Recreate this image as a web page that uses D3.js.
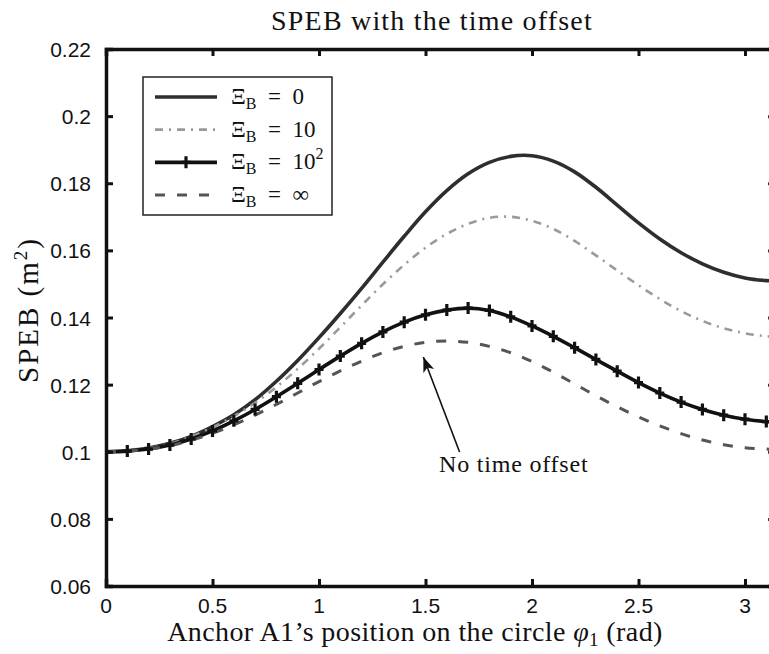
<!DOCTYPE html>
<html>
<head>
<meta charset="utf-8">
<script src="https://cdn.jsdelivr.net/npm/d3@7"></script>
<style>
    body { margin: 0; background: #fff; }
    svg { display: block; }
    .tick-label { font-family: "Liberation Sans", Arial, sans-serif; font-size: 21px; fill: #111; }
    .serif { font-family: "Liberation Serif", "Times New Roman", serif; fill: #111; }
</style>
</head>
<body>
<div id="chart"></div>
<script>
// phi_1 values (rad), every 0.1 plus the end point pi
const phi = [0, 0.1, 0.2, 0.3, 0.4, 0.5, 0.6, 0.7, 0.8, 0.9, 1.0, 1.1, 1.2, 1.3, 1.4, 1.5,
    1.6, 1.7, 1.8, 1.9, 2.0, 2.1, 2.2, 2.3, 2.4, 2.5, 2.6, 2.7, 2.8, 2.9, 3.0, 3.1, Math.PI];

// SPEB (m^2)
const speb0 = [0.1, 0.1003, 0.1011, 0.1025, 0.1046, 0.1075, 0.1110, 0.1155, 0.1210, 0.1272, 0.1340,
    0.1412, 0.1487, 0.1565, 0.1642, 0.1715, 0.1778, 0.1828, 0.1862, 0.1880, 0.1882, 0.1866,
    0.1834, 0.1788, 0.1735, 0.1682, 0.1634, 0.1593, 0.1560, 0.1535, 0.1518, 0.1510, 0.1509];
const speb10 = [0.1, 0.1003, 0.1011, 0.1024, 0.1045, 0.1073, 0.1106, 0.1146, 0.1193, 0.1247, 0.1307,
    0.1371, 0.1436, 0.1499, 0.1557, 0.1608, 0.1649, 0.1679, 0.1697, 0.1700, 0.1688, 0.1664,
    0.1628, 0.1585, 0.1540, 0.1496, 0.1455, 0.1419, 0.1390, 0.1368, 0.1353, 0.1344, 0.1343];
const speb100 = [0.1, 0.1002, 0.1008, 0.1020, 0.1038, 0.1062, 0.1092, 0.1126, 0.1164, 0.1204, 0.1245,
    0.1285, 0.1323, 0.1357, 0.1386, 0.1408, 0.1422, 0.1428, 0.1421, 0.1402, 0.1375, 0.1344,
    0.1310, 0.1275, 0.1240, 0.1206, 0.1175, 0.1148, 0.1126, 0.1109, 0.1097, 0.1090, 0.1089];
const spebInf = [0.1, 0.1002, 0.1008, 0.1018, 0.1034, 0.1055, 0.1080, 0.1109, 0.1141, 0.1175, 0.1209,
    0.1241, 0.1270, 0.1295, 0.1314, 0.1326, 0.1330, 0.1326, 0.1314, 0.1295, 0.1269, 0.1237,
    0.1202, 0.1167, 0.1134, 0.1104, 0.1077, 0.1054, 0.1035, 0.1021, 0.1012, 0.1008, 0.1007];

const xTicks = [0, 0.5, 1, 1.5, 2, 2.5, 3];
const yTicks = [0.06, 0.08, 0.1, 0.12, 0.14, 0.16, 0.18, 0.2, 0.22];
const legendLabels = ["0", "10", "10", "\u221E"];

const W = 769, H = 654;
const plotLeft = 106, plotTop = 49, plotBottom = 586;
const plotRight = plotLeft + Math.PI * 213;

const svg = d3.select("#chart").append("svg")
    .attr("width", W)
    .attr("height", H);

const x = d3.scaleLinear().domain([0, Math.PI]).range([plotLeft, plotRight]);
const y = d3.scaleLinear().domain([0.06, 0.22]).range([plotBottom, plotTop]);

svg.append("clipPath").attr("id", "plot-clip")
    .append("rect")
    .attr("x", plotLeft).attr("y", plotTop)
    .attr("width", plotRight - plotLeft).attr("height", plotBottom - plotTop);

// curves
const line = d3.line()
    .x((d, i) => x(phi[i]))
    .y(d => y(d))
    .curve(d3.curveCatmullRom);

const series = [
    { values: speb0, color: "#2e2e2e", width: 3.6, dash: null },
    { values: speb10, color: "#9a9a9a", width: 2.6, dash: "8,6,2,6" },
    { values: speb100, color: "#111", width: 3.6, dash: null },
    { values: spebInf, color: "#555", width: 3, dash: "10,12" }
];

const plot = svg.append("g").attr("clip-path", "url(#plot-clip)");

series.forEach(s => {
    plot.append("path")
        .datum(s.values)
        .attr("d", line)
        .attr("fill", "none")
        .attr("stroke", s.color)
        .attr("stroke-width", s.width)
        .attr("stroke-dasharray", s.dash);
});

// plus markers on the 10^2 curve
plot.selectAll(".mark")
    .data(speb100.slice(0, 32))
    .enter().append("path")
    .attr("class", "mark")
    .attr("transform", (d, i) => `translate(${x(phi[i])},${y(d)})`)
    .attr("d", "M-4.5,0H4.5M0,-6V6")
    .attr("stroke", "#111")
    .attr("stroke-width", 3.2);

// frame and ticks
const axisG = svg.append("g");

axisG.append("g")
    .attr("transform", `translate(0,${plotBottom})`)
    .call(d3.axisBottom(x).tickValues(xTicks).tickSize(-7).tickFormat(""));
axisG.append("g")
    .attr("transform", `translate(0,${plotTop})`)
    .call(d3.axisTop(x).tickValues(xTicks).tickSize(-7).tickFormat(""));
axisG.append("g")
    .attr("transform", `translate(${plotLeft},0)`)
    .call(d3.axisLeft(y).tickValues(yTicks).tickSize(-7).tickFormat(""));
axisG.append("g")
    .attr("transform", `translate(${plotRight},0)`)
    .call(d3.axisRight(y).tickValues(yTicks).tickSize(-7).tickFormat(""));

axisG.selectAll(".domain").attr("stroke", "#111").attr("stroke-width", 3.5);
axisG.selectAll(".tick line").attr("stroke", "#111").attr("stroke-width", 3);

// tick labels
svg.selectAll(".xlab")
    .data(xTicks)
    .enter().append("text")
    .attr("class", "tick-label")
    .attr("x", d => x(d))
    .attr("y", 613)
    .attr("text-anchor", "middle")
    .text(d => d);

svg.selectAll(".ylab")
    .data(yTicks)
    .enter().append("text")
    .attr("class", "tick-label")
    .attr("x", 91)
    .attr("y", d => y(d) + 8)
    .attr("text-anchor", "end")
    .text(d => d);

// title and axis labels
svg.append("text")
    .attr("class", "serif")
    .attr("x", 432)
    .attr("y", 30)
    .attr("text-anchor", "middle")
    .style("font-size", "28px")
    .style("letter-spacing", "1.2px")
    .text("SPEB with the time offset");

const xl = svg.append("text")
    .attr("class", "serif")
    .attr("x", 415)
    .attr("y", 641)
    .attr("text-anchor", "middle")
    .style("font-size", "28px")
    .style("letter-spacing", "0.4px");
xl.append("tspan").text("Anchor A1\u2019s position on the circle ");
xl.append("tspan").style("font-style", "italic").text("\u03C6");
xl.append("tspan").attr("dy", 5).style("font-size", "19px").text("1");
xl.append("tspan").attr("dy", -5).text(" (rad)");

const yl = svg.append("text")
    .attr("class", "serif")
    .attr("transform", "translate(38,310) rotate(-90)")
    .attr("text-anchor", "middle")
    .style("font-size", "29px")
    .style("letter-spacing", "2px");
yl.append("tspan").text("SPEB (m");
yl.append("tspan").attr("dy", -11).style("font-size", "19px").text("2");
yl.append("tspan").attr("dy", 11).text(")");

// legend
const legend = svg.append("g");
legend.append("rect")
    .attr("x", 143).attr("y", 77)
    .attr("width", 189).attr("height", 138)
    .attr("fill", "#fff")
    .attr("stroke", "#222")
    .attr("stroke-width", 1.5);

const legendY = d3.scalePoint().domain(d3.range(4)).range([97, 195]);

series.forEach((s, i) => {
    const yy = legendY(i);
    legend.append("line")
        .attr("x1", 155).attr("x2", 217)
        .attr("y1", yy).attr("y2", yy)
        .attr("stroke", s.color)
        .attr("stroke-width", s.width)
        .attr("stroke-dasharray", s.dash);
    if (i === 2) {
        legend.append("path")
            .attr("transform", `translate(186,${yy})`)
            .attr("d", "M-4.5,0H4.5M0,-6V6")
            .attr("stroke", "#111")
            .attr("stroke-width", 3.2);
    }
    const t = legend.append("text")
        .attr("class", "serif")
        .attr("x", 231)
        .attr("y", yy + 7)
        .style("font-size", "23px");
    t.append("tspan").text("\u039E");
    t.append("tspan").attr("dy", 5).style("font-size", "16px").text("B");
    t.append("tspan").attr("dy", -5).text("\u2002=\u2002" + legendLabels[i]);
    if (i === 2) {
        t.append("tspan").attr("dy", -10).style("font-size", "16px").text("2");
    }
});

// annotation
svg.append("defs").append("marker")
    .attr("id", "arrow")
    .attr("viewBox", "0 0 10 10")
    .attr("refX", 10).attr("refY", 5)
    .attr("markerWidth", 15).attr("markerHeight", 15)
    .attr("markerUnits", "userSpaceOnUse")
    .attr("orient", "auto")
    .append("path")
    .attr("d", "M0,1.2L10,5L0,8.8L2.5,5Z")
    .attr("fill", "#111");

svg.append("line")
    .attr("x1", x(1.66)).attr("y1", 452)
    .attr("x2", x(1.49)).attr("y2", 357)
    .attr("stroke", "#111")
    .attr("stroke-width", 1.6)
    .attr("marker-end", "url(#arrow)");

svg.append("text")
    .attr("class", "serif")
    .attr("x", 439)
    .attr("y", 472)
    .style("font-size", "24px")
    .style("letter-spacing", "0.8px")
    .text("No time offset");
</script>
</body>
</html>
